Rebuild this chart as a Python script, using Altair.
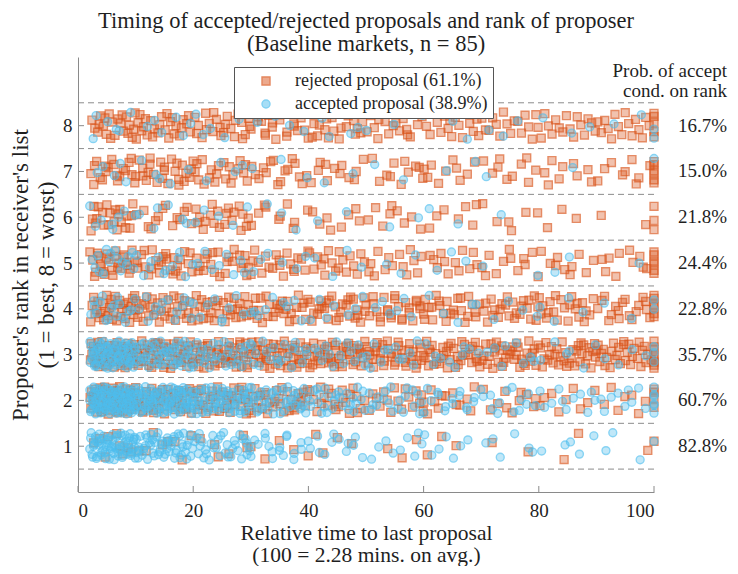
import altair as alt
import pandas as pd

# ---------------- data ----------------
RANKS = [1, 2, 3, 4, 5, 6, 7, 8]
PROB_LABELS = ["82.8%", "60.7%", "35.7%", "22.8%", "24.4%", "21.8%", "15.0%", "16.7%"]
TYPES = ["rejected proposal (61.1%)", "accepted proposal (38.9%)"]
COLORS = ["#D95319", "#4DBEEE"]
SHAPES = ["square", "circle"]
X_TICKS = [0, 20, 40, 60, 80, 100]
SEPARATORS = [0.5, 1.5, 2.5, 3.5, 4.5, 5.5, 6.5, 7.5, 8.5]

# time bins (relative time) and counts of proposals per bin, per rank
BIN_LO = [2, 10, 20, 30, 40, 50, 60, 70, 80, 90]
BIN_HI = [10, 20, 30, 40, 50, 60, 70, 80, 90, 99.5]
REJ_BINS = {
    1: [9, 8, 6, 5, 4, 3, 3, 2, 2, 1],
    2: [50, 45, 36, 30, 22, 17, 13, 11, 9, 7],
    3: [47, 49, 47, 44, 41, 38, 36, 36, 33, 30],
    4: [34, 32, 30, 28, 28, 26, 24, 24, 22, 18],
    5: [28, 26, 22, 20, 18, 14, 12, 12, 10, 10],
    6: [22, 14, 20, 10, 8, 9, 7, 6, 3, 2],
    7: [20, 26, 20, 16, 12, 11, 10, 10, 9, 9],
    8: [22, 26, 24, 22, 20, 18, 17, 17, 16, 16],
}
REJ_AT_100 = {1: 1, 2: 4, 3: 8, 4: 6, 5: 6, 6: 3, 7: 6, 8: 5}
ACC_BINS = {
    1: [65, 55, 34, 18, 12, 9, 7, 6, 5, 3],
    2: [95, 85, 60, 40, 27, 20, 16, 13, 11, 9],
    3: [72, 50, 30, 20, 15, 12, 10, 8, 6, 4],
    4: [18, 14, 10, 8, 7, 6, 5, 4, 4, 2],
    5: [16, 12, 8, 6, 4, 3, 3, 2, 2, 1],
    6: [8, 6, 5, 3, 2, 2, 2, 1, 0, 0],
    7: [5, 5, 4, 3, 2, 2, 2, 1, 1, 0],
    8: [6, 6, 5, 5, 4, 3, 3, 3, 3, 2],
}
ACC_AT_100 = {1: 1, 2: 6, 3: 3, 4: 2, 5: 0, 6: 0, 7: 1, 8: 2}

# ---------------- spread the counted points inside their bins ----------------
JIT = 0.6


def halton(i, b):
    f, res = 1.0, 0.0
    while i > 0:
        f /= b
        res += f * (i % b)
        i //= b
    return res


rows = []


def spread(bins, at100, kind, seed):
    for r in RANKS:
        k = seed + r * 211
        for lo, hi, n in zip(BIN_LO, BIN_HI, bins[r]):
            for _ in range(n):
                k += 1
                u = halton(k, 2)
                v = halton(k, 3)
                rows.append({"t": lo + u * (hi - lo), "r": r + (v - 0.5) * JIT, "type": kind})
        for _ in range(at100[r]):
            k += 1
            rows.append({"t": 100.0, "r": r + (halton(k, 3) - 0.5) * JIT, "type": kind})


spread(REJ_BINS, REJ_AT_100, TYPES[0], 17)
spread(ACC_BINS, ACC_AT_100, TYPES[1], 5003)
df = pd.DataFrame(rows)

FONT = "Liberation Serif"
AXIS_C = "#8a8a8a"
TXT_C = "#1f1f1f"

W, H = 576, 435
XS = alt.Scale(domain=[0, 100], nice=False, zero=False)
YS = alt.Scale(domain=[0, 9.5], nice=False, zero=False)
XAX = alt.Axis(values=X_TICKS, ticks=False, grid=False, labelPadding=9,
               title=["Relative time to last proposal", "(100 = 2.28 mins. on avg.)"],
               titleFontSize=21.5, titlePadding=2, titleLineHeight=22)
YAX = alt.Axis(values=RANKS, ticks=False, grid=False, labelPadding=6,
               title=["Proposer's rank in receiver's list", "(1 = best, 8 = worst)"],
               titleFontSize=23, titlePadding=4.5, titleLineHeight=26)


def X(f):
    return alt.X(f, scale=XS, axis=XAX)


def Y(f):
    return alt.Y(f, scale=YS, axis=YAX)


legend = alt.Legend(
    title=None, orient="none", legendX=156, legendY=10,
    fillColor="white", strokeColor="#555555", padding=5,
    symbolOffset=18, labelOffset=20, rowPadding=5, labelLimit=0,
    labelFont=FONT, labelFontSize=18, labelColor=TXT_C,
    symbolSize=64, symbolStrokeWidth=1.4,
)

seps = alt.Chart(pd.DataFrame({"r": SEPARATORS})).mark_rule(
    color="#8c8c8c", strokeDash=[6, 4], strokeWidth=1
).encode(y=Y("r:Q"))

pts = alt.Chart(df).mark_point(
    filled=False, size=62, strokeWidth=1.4, strokeOpacity=0.95
).encode(
    x=X("t:Q"),
    y=Y("r:Q"),
    stroke=alt.Stroke("type:N", scale=alt.Scale(domain=TYPES, range=COLORS), legend=legend),
    fill=alt.Fill("type:N", scale=alt.Scale(domain=TYPES, range=COLORS), legend=legend),
    fillOpacity=alt.FillOpacity("type:N", scale=alt.Scale(domain=TYPES, range=[0.5, 0.5]), legend=legend),
    shape=alt.Shape("type:N", scale=alt.Scale(domain=TYPES, range=SHAPES), legend=legend),
)

xticks = alt.Chart(pd.DataFrame({"t": X_TICKS})).mark_rule(color=AXIS_C).encode(
    x=X("t:Q"), y=alt.value(H), y2=alt.value(H - 6))
yticks = alt.Chart(pd.DataFrame({"r": RANKS})).mark_rule(color=AXIS_C).encode(
    y=Y("r:Q"), x=alt.value(0), x2=alt.value(6))

probs = alt.Chart(pd.DataFrame({"r": RANKS, "lab": PROB_LABELS})).mark_text(
    align="right", baseline="middle", dx=73, font=FONT, fontSize=19, color=TXT_C
).encode(x=alt.XDatum(100, scale=XS, axis=XAX), y=Y("r:Q"), text="lab:N")

header = alt.Chart(pd.DataFrame({"r": [9.06]})).mark_text(
    align="right", baseline="alphabetic", dx=73, font=FONT, fontSize=19, color=TXT_C,
    lineHeight=20, text=["Prob. of accept", "cond. on rank"]
).encode(x=alt.XDatum(100, scale=XS, axis=XAX), y=Y("r:Q"))

chart = alt.layer(seps, pts, xticks, yticks, probs, header).properties(
    width=W, height=H,
    title=alt.TitleParams(
        ["Timing of accepted/rejected proposals and rank of proposer",
         "(Baseline markets, n = 85)"],
        anchor="middle", font=FONT, fontSize=22.5, fontWeight="normal",
        color=TXT_C, lineHeight=23, offset=2),
    padding={"left": 70, "top": 49, "right": 76, "bottom": 74},
    autosize=alt.AutoSizeParams(type="none"),
).configure_view(stroke=None).configure_axis(
    domainColor=AXIS_C, domainWidth=1,
    labelFont=FONT, labelFontSize=19, labelColor=TXT_C,
    titleFont=FONT, titleFontWeight="normal", titleColor=TXT_C,
)

chart.save("out.html", embed_options={"renderer": "svg", "actions": False})
